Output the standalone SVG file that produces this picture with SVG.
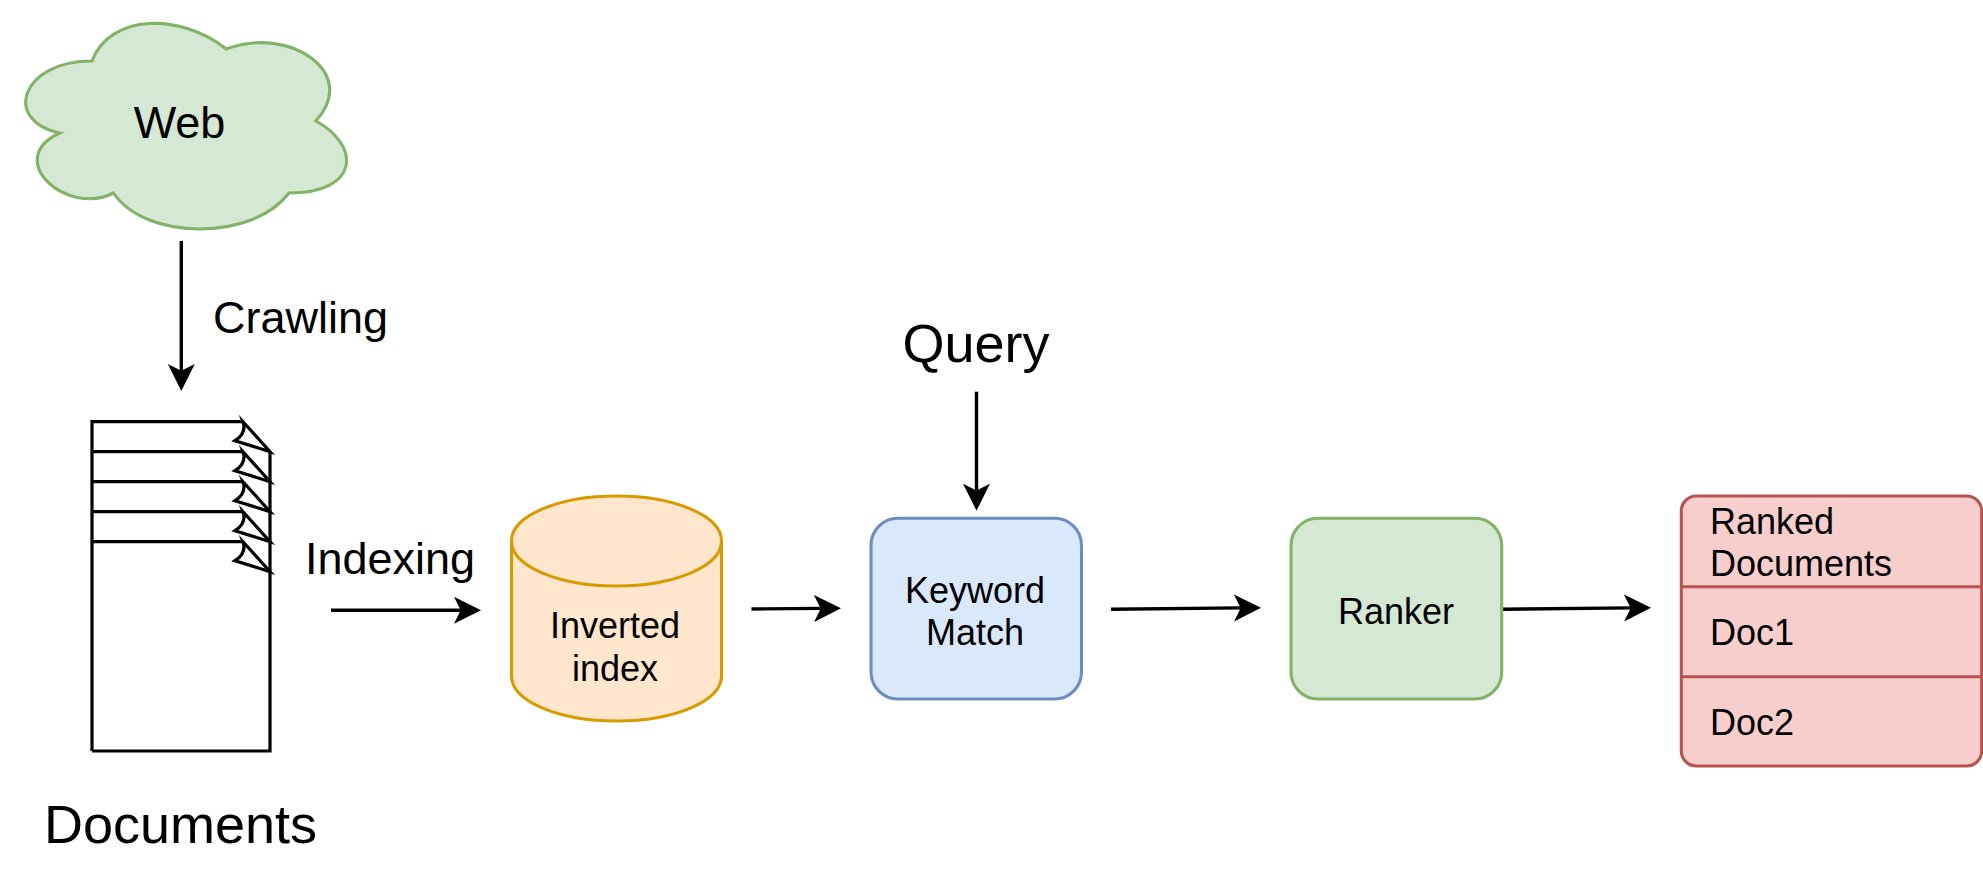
<svg xmlns="http://www.w3.org/2000/svg" width="1983" height="873" viewBox="0 0 1983 873">
  <style>
    text { font-family: "Liberation Sans", Arial, sans-serif; fill: #000; }
    .big { font-size: 54px; }
    .mid { font-size: 45px; }
    .sm { font-size: 36px; }
    .c { text-anchor: middle; }
    .wire { fill: none; stroke: #000; stroke-width: 3.4; marker-end: url(#arrow); }
    .ink { fill: none; stroke: #000; stroke-width: 3.2; stroke-miterlimit: 10; }
    .green { fill: #d5e8d4; stroke: #82b366; stroke-width: 3.1; }
    .blue { fill: #dae8fc; stroke: #6c8ebf; stroke-width: 3.1; }
    .orange { fill: #ffe6cc; stroke: #d79b00; stroke-width: 3.1; }
    .red { fill: #f8cecc; stroke: #b85450; stroke-width: 3.1; }
  </style>
  <defs>
    <marker id="arrow" markerUnits="userSpaceOnUse" markerWidth="30" markerHeight="30" refX="7" refY="13.5" orient="auto">
      <path d="M27 13.5 L0 0 L6.7 13.5 L0 27 Z" fill="#000"/>
    </marker>
  </defs>
  <rect width="1983" height="873" fill="#fff"/>
  <g id="connectors">
    <path class="wire" d="M181.3 241 V371"/>
    <path class="wire" d="M331 610.3 H461"/>
    <path class="wire" d="M751.5 609 L821 608.4"/>
    <path class="wire" d="M976.5 391.7 V490.7"/>
    <path class="wire" d="M1111 609.3 L1241 607.9"/>
    <path class="wire" d="M1502 609.3 L1631 607.9"/>
  </g>
  <g id="web">
    <path class="green" d="M92 61 C20.4 61 2.5 121 59.8 133 C2.5 159.4 66.9 217 113.5 193 C145.7 241 253.1 241 288.9 193 C360.5 193 360.5 145 315.75 121 C360.5 73 288.9 25 226.25 49 C181.5 13 109.9 13 92 61 Z"/>
    <text class="mid c" x="179.5" y="137.5">Web</text>
  </g>
  <text class="mid" x="213" y="333">Crawling</text>
  <g id="documents">
    <path class="ink" d="M92 751 V421.7 H243 M92 451.7 H243 M92 481.7 H243 M92 511.7 H243 M92 541.7 H243 M270 452 V751 H92"/>
    <path class="ink" d="M243 421.7 L270 451.7 L235 440.7 Q247 433 243 421.7 Z"/>
    <path class="ink" d="M243 451.7 L270 481.7 L235 470.7 Q247 463 243 451.7 Z"/>
    <path class="ink" d="M243 481.7 L270 511.7 L235 500.7 Q247 493 243 481.7 Z"/>
    <path class="ink" d="M243 511.7 L270 541.7 L235 530.7 Q247 523 243 511.7 Z"/>
    <path class="ink" d="M243 541.7 L270 571.7 L235 560.7 Q247 553 243 541.7 Z"/>
    <text class="big" x="44" y="843">Documents</text>
  </g>
  <text class="mid" x="305" y="574">Indexing</text>
  <g id="inverted-index">
    <path class="orange" d="M511.5 541 C511.5 516 558 496 616.5 496 C675 496 721.5 516 721.5 541 L721.5 676 C721.5 701 675 721 616.5 721 C558 721 511.5 701 511.5 676 Z"/>
    <path class="orange" style="fill:none" d="M721.5 541 C721.5 566 675 586 616.5 586 C558 586 511.5 566 511.5 541"/>
    <text class="sm c" x="615" y="638">Inverted</text>
    <text class="sm c" x="615" y="680.5">index</text>
  </g>
  <text class="big c" x="976" y="362">Query</text>
  <g id="keyword-match">
    <rect class="blue" x="871" y="518.3" width="210.5" height="180.7" rx="27" ry="27"/>
    <text class="sm c" x="975" y="602.5">Keyword</text>
    <text class="sm c" x="975" y="645">Match</text>
  </g>
  <g id="ranker">
    <rect class="green" x="1291" y="518.3" width="210.7" height="180.7" rx="27" ry="27"/>
    <text class="sm c" x="1396" y="624.3">Ranker</text>
  </g>
  <g id="ranked-documents">
    <rect class="red" x="1681.3" y="496" width="300.4" height="270" rx="15" ry="15"/>
    <path class="red" style="fill:none" d="M1681.3 586.7 H1981.7 M1681.3 676.7 H1981.7"/>
    <text class="sm" x="1710" y="533.5">Ranked</text>
    <text class="sm" x="1710" y="576">Documents</text>
    <text class="sm" x="1710" y="644.5">Doc1</text>
    <text class="sm" x="1710" y="734.5">Doc2</text>
  </g>
</svg>
